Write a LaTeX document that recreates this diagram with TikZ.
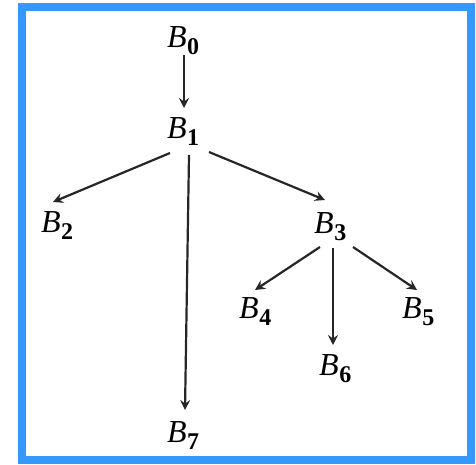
\documentclass[tikz,border=0pt]{standalone}
\usepackage{fontspec}
\setmainfont{Liberation Serif}
\usetikzlibrary{arrows.meta,calc}
\definecolor{frameblue}{RGB}{52,152,255}
\newcommand{\Bsub}[1]{\textit{B}\kern0.5pt\raisebox{-7pt}{\fontsize{24}{24}\selectfont\bfseries #1}}
\tikzset{
  lbl/.style={anchor=base west, inner sep=0pt, font=\fontsize{32}{36}\selectfont},
  arr/.style={line width=2.2pt, -{Stealth[length=10pt,width=10pt,inset=3.5pt]}, color=black!85}
}
\begin{document}
\begin{tikzpicture}[x=1pt,y=-1pt]
\useasboundingbox (0,0) rectangle (476,464);
\draw[line width=8pt, frameblue] (22,7) rectangle (471,460);
\node[lbl] (b0) at (167,47) {\Bsub{0}};
\node[lbl] (b1) at (167,138) {\Bsub{1}};
\node[lbl] (b2) at (41,232) {\Bsub{2}};
\node[lbl] (b3) at (314,233) {\Bsub{3}};
\node[lbl] (b4) at (239,318) {\Bsub{4}};
\node[lbl] (b5) at (402,318) {\Bsub{5}};
\node[lbl] (b6) at (319,375) {\Bsub{6}};
\node[lbl] (b7) at (167,442) {\Bsub{7}};
\draw[arr] ($(b0.base west)+(17,8)$) -- ($(b1.base west)+(17,-30)$);
\draw[arr] ($(b1.base west)+(3,15)$) -- ($(b2.base west)+(12,-30)$);
\draw[arr] ($(b1.base west)+(42,14)$) -- ($(b3.base west)+(11,-33)$);
\draw[arr] ($(b1.base west)+(22,17)$) -- ($(b7.base west)+(18,-32)$);
\draw[arr] ($(b3.base west)+(6,14)$) -- ($(b4.base west)+(16,-28)$);
\draw[arr] ($(b3.base west)+(19,15)$) -- ($(b6.base west)+(14,-30)$);
\draw[arr] ($(b3.base west)+(39,14)$) -- ($(b5.base west)+(15,-28)$);
\end{tikzpicture}
\end{document}
